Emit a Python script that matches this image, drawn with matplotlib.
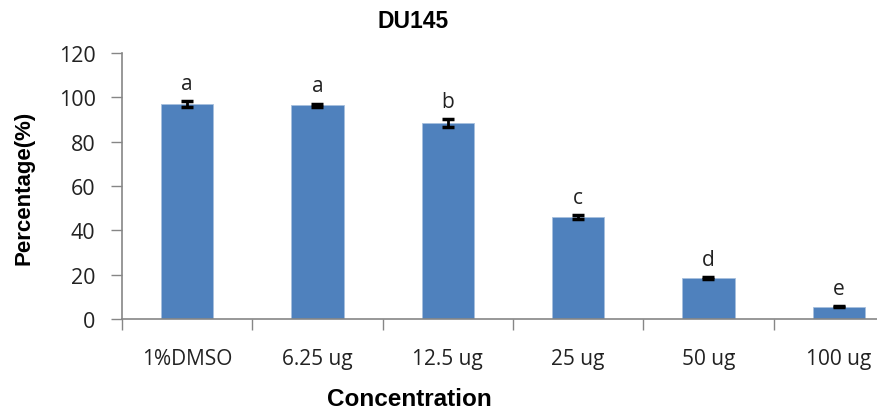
import matplotlib
matplotlib.use('Agg')
import matplotlib.pyplot as plt
import numpy as np

# data
categories = ['1%DMSO', '6.25 ug', '12.5 ug', '25 ug', '50 ug', '100 ug']
percent = [97.0, 96.5, 88.4, 46.0, 18.5, 5.5]
errors = [1.5, 0.7, 1.8, 1.0, 0.4, 0.3]
letters = ['a', 'a', 'b', 'c', 'd', 'e']
yticks = [0, 20, 40, 60, 80, 100, 120]

W, H = 878, 410
fig = plt.figure(figsize=(W / 100, H / 100), dpi=100)
# axes runs past the right edge, like the cropped original
ax = fig.add_axes([122 / W, 1 - 320 / H, (904 - 122) / W, (320 - 54) / H])

x = np.arange(len(categories))
ax.bar(x, percent, width=0.4, color='#4F81BD', edgecolor='#A7C0DE', linewidth=0.6, zorder=2)
ax.errorbar(x, percent, yerr=errors, fmt='none', ecolor='black',
            elinewidth=2.0, capsize=4.5, capthick=2.5, zorder=3)

for xi, v, e, lab in zip(x, percent, errors, letters):
    ax.text(xi, v + e + 3.2, lab, ha='center', va='bottom',
            fontsize=15, family='Open Sans', color='#222222')

ax.set_xlim(-0.5, len(categories) - 0.5)
ax.set_ylim(0, 120)
ax.set_yticks(yticks)
ax.set_xticks(np.arange(len(categories) + 1) - 0.5, minor=False)
ax.set_xticklabels([])
ax.set_xticks(x, minor=True)
ax.set_xticklabels(categories, minor=True)
ax.tick_params(axis='x', which='minor', length=0, pad=21, labelsize=15)
ax.tick_params(axis='x', which='major', length=8, width=1, color='#868686', direction='out')
ax.tick_params(axis='y', length=8, width=1, color='#868686', direction='out',
               labelsize=15.5, pad=11)
for lab in ax.get_xticklabels(minor=True) + ax.get_yticklabels():
    lab.set_family('Open Sans')
    lab.set_color('#222222')

for s in ['top', 'right']:
    ax.spines[s].set_visible(False)
for s in ['left', 'bottom']:
    ax.spines[s].set_color('#868686')
    ax.spines[s].set_linewidth(1.2)

fig.text(413 / W, 1 - 21 / H, 'DU145', ha='center', va='center',
         fontsize=16.5, fontweight='bold', family='Liberation Sans')
fig.text(24 / W, 1 - 188 / H, 'Percentage(%)', ha='center', va='center', rotation=90,
         fontsize=16, fontweight='bold', family='Liberation Sans')
fig.text(409 / W, 1 - 400 / H, 'Concentration', ha='center', va='center',
         fontsize=17.5, fontweight='bold', family='Liberation Sans')

fig.savefig('out.png', dpi=100)
